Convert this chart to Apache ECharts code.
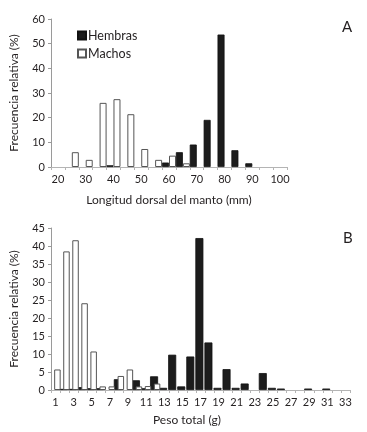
<!DOCTYPE html>
<html>
<head>
<meta charset="utf-8">
<script src="https://cdn.jsdelivr.net/npm/echarts@6/dist/echarts.min.js"></script>
<style>
  html, body { margin: 0; padding: 0; background: #fff; }
  #chart { width: 367px; height: 432px; }
</style>
</head>
<body>
<div id="chart"></div>
<script>
// A: longitud dorsal del manto (mm), clases de 5 mm
var longitudCats = ['20', '25', '30', '35', '40', '45', '50', '55', '60', '65', '70', '75', '80', '85', '90', '95', '100'];
var hembrasLongitud = [0, 0, 0, 0, 0.7, 0, 0, 0, 1.8, 6.0, 9.1, 19.1, 53.7, 6.8, 1.5, 0, 0];
var machosLongitud = [0, 6.0, 2.9, 26.0, 27.5, 21.4, 7.3, 2.9, 4.6, 1.5, 0, 0, 0, 0, 0, 0, 0];

// B: peso total (g), clases de 1 g
var pesoCats = ['1', '2', '3', '4', '5', '6', '7', '8', '9', '10', '11', '12', '13', '14', '15', '16', '17',
    '18', '19', '20', '21', '22', '23', '24', '25', '26', '27', '28', '29', '30', '31', '32', '33'];
var hembrasPeso = [0, 0.3, 0.3, 0.8, 0.5, 0.5, 0, 3.0, 0, 2.7, 0.5, 3.8, 0.6, 9.8, 1.0, 9.3, 42.2,
    13.2, 0.6, 5.8, 0.6, 1.8, 0, 4.7, 0.6, 0.4, 0, 0, 0.4, 0, 0.4, 0, 0];
var machosPeso = [5.7, 38.5, 41.6, 24.1, 10.7, 1.0, 1.0, 3.9, 5.7, 1.0, 1.1, 1.8, 0, 0, 0, 0, 0,
    0, 0, 0, 0, 0, 0, 0, 0, 0, 0, 0, 0, 0, 0, 0, 0];

var FONT = 'Lato';
var TXT = '#231f20';

// los ceros no se dibujan
function noZero(arr) {
    return arr.map(function (v) { return v === 0 ? null : v; });
}

var negro = { color: '#1c1c1c', borderColor: '#111', borderWidth: 0.8 };
var blanco = { color: '#fff', borderColor: '#555', borderWidth: 1 };

function xAxis(idx, cats, name, nameGap, namePad) {
    return {
        type: 'category',
        gridIndex: idx,
        data: cats,
        name: name,
        nameLocation: 'middle',
        nameGap: nameGap,
        nameTextStyle: { fontFamily: FONT, fontSize: 12, color: TXT, padding: namePad },
        axisLine: { lineStyle: { color: '#b4b4b4', width: 1 } },
        axisTick: { show: true, interval: 0, length: 3, lineStyle: { color: '#b4b4b4' } },
        axisLabel: { interval: 1, margin: 7, fontFamily: FONT, fontSize: 11, color: TXT },
        splitLine: { show: false }
    };
}

function yAxis(idx, max, step) {
    return {
        type: 'value',
        gridIndex: idx,
        min: 0,
        max: max,
        interval: step,
        name: 'Frecuencia relativa (%)',
        nameLocation: 'middle',
        nameGap: 31,
        nameTextStyle: { fontFamily: FONT, fontSize: 12, color: TXT },
        axisLine: { show: true, lineStyle: { color: '#9a9a9a', width: 1 } },
        axisTick: { show: true, length: 3, lineStyle: { color: '#9a9a9a' } },
        axisLabel: { margin: 6, fontFamily: FONT, fontSize: 11, color: TXT },
        splitLine: { show: false }
    };
}

var chart = echarts.init(document.getElementById('chart'), null, { renderer: 'canvas' });
chart.setOption({
    backgroundColor: '#fff',
    animation: false,
    title: [
        { text: 'A', left: 337, top: 15, textStyle: { fontFamily: FONT, fontSize: 15, fontWeight: 'normal', color: TXT } },
        { text: 'B', left: 338, top: 226, textStyle: { fontFamily: FONT, fontSize: 15, fontWeight: 'normal', color: TXT } }
    ],
    legend: {
        data: ['Hembras', 'Machos'],
        orient: 'vertical',
        left: 72,
        top: 24,
        itemWidth: 8,
        itemHeight: 8,
        itemGap: 5,
        icon: 'rect',
        textStyle: { fontFamily: FONT, fontSize: 12.5, color: TXT, padding: [0, 0, 0, -3] }
    },
    grid: [
        { left: 49, top: 19, width: 238, height: 148 },
        { left: 49, top: 228, width: 301, height: 162 }
    ],
    xAxis: [
        xAxis(0, longitudCats, 'Longitud dorsal del manto (mm)', 27, [0, 0, 0, 0]),
        xAxis(1, pesoCats, 'Peso total (g)', 24, [0, 27, 0, 0])
    ],
    yAxis: [
        yAxis(0, 60, 10),
        yAxis(1, 45, 5)
    ],
    series: [
        {
            name: 'Hembras', type: 'bar', xAxisIndex: 0, yAxisIndex: 0,
            data: noZero(hembrasLongitud), barWidth: 7, barGap: '0%', barCategoryGap: '0%',
            itemStyle: negro
        },
        {
            name: 'Machos', type: 'bar', xAxisIndex: 0, yAxisIndex: 0,
            data: noZero(machosLongitud), barWidth: 7, barGap: '0%', barCategoryGap: '0%',
            itemStyle: blanco
        },
        {
            name: 'Hembras', type: 'bar', xAxisIndex: 1, yAxisIndex: 1,
            data: noZero(hembrasPeso), barWidth: 8, barGap: '-53%',
            itemStyle: negro
        },
        {
            name: 'Machos', type: 'bar', xAxisIndex: 1, yAxisIndex: 1,
            data: noZero(machosPeso), barWidth: 6.5, barGap: '-53%',
            itemStyle: blanco
        }
    ]
});
</script>
</body>
</html>
